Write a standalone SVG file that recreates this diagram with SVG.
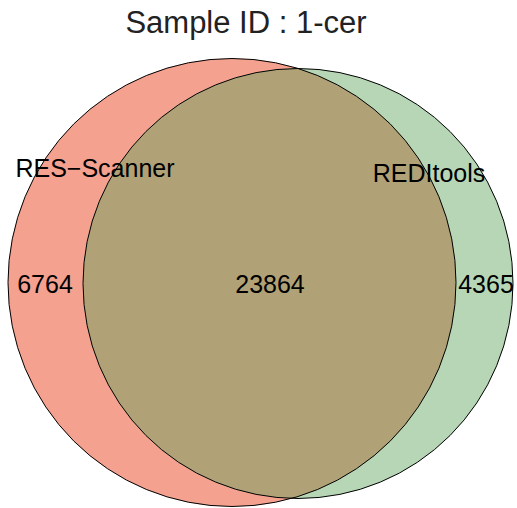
<svg xmlns="http://www.w3.org/2000/svg" width="517" height="508" viewBox="0 0 517 508">
  <style>
    .lbl { font-family: "Liberation Sans", Arial, sans-serif; font-size: 25px; fill: #000; text-anchor: middle; }
    .title { font-family: "Liberation Sans", Arial, sans-serif; font-size: 31px; fill: #222; text-anchor: middle; }
    .edge { fill: none; stroke: #000; stroke-width: 1; }
  </style>
  <defs>
    <clipPath id="clipLeft"><circle cx="232" cy="282.5" r="224"/></clipPath>
  </defs>
  <rect width="517" height="508" fill="#fff"/>
  <text class="title" x="246" y="33">Sample ID : 1-cer</text>
  <g id="res-scanner">
    <circle cx="232" cy="282.5" r="224" fill="#F4A190"/>
  </g>
  <g id="reditools">
    <circle cx="298" cy="283.5" r="215" fill="#B6D6B6"/>
  </g>
  <g id="overlap">
    <circle cx="298" cy="283.5" r="215" fill="#B0A276" clip-path="url(#clipLeft)"/>
  </g>
  <g id="outlines">
    <circle class="edge" cx="232" cy="282.5" r="224"/>
    <circle class="edge" cx="298" cy="283.5" r="215"/>
  </g>
  <text class="lbl" x="95" y="177">RES−Scanner</text>
  <text class="lbl" x="429" y="182">REDItools</text>
  <text class="lbl" x="45" y="293">6764</text>
  <text class="lbl" x="270" y="293">23864</text>
  <text class="lbl" x="486" y="293">4365</text>
</svg>
